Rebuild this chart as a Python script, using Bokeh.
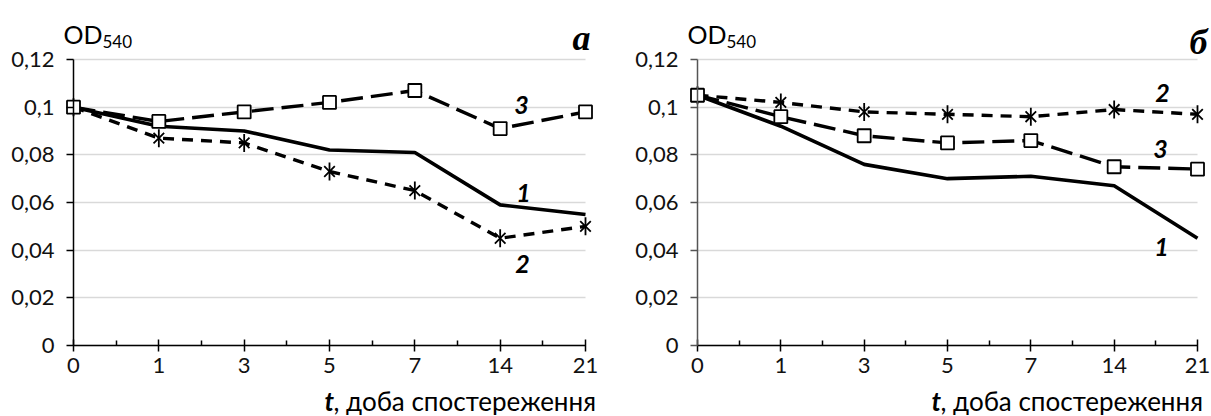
import math
from bokeh.plotting import figure
from bokeh.models import Range1d, FixedTicker, Label, CustomJSTickFormatter
from bokeh.layouts import row
from bokeh.embed import file_html
from bokeh.resources import INLINE

# ---- data ----
days = ["0", "1", "3", "5", "7", "14", "21"]
y_ticks = [0, 0.02, 0.04, 0.06, 0.08, 0.10, 0.12]
y_max = 0.12

a_curve1 = [0.100, 0.092, 0.090, 0.082, 0.081, 0.059, 0.055]
a_curve2 = [0.100, 0.087, 0.085, 0.073, 0.065, 0.045, 0.050]
a_curve3 = [0.100, 0.094, 0.098, 0.102, 0.107, 0.091, 0.098]

b_curve1 = [0.105, 0.092, 0.076, 0.070, 0.071, 0.067, 0.045]
b_curve2 = [0.105, 0.102, 0.098, 0.097, 0.096, 0.099, 0.097]
b_curve3 = [0.105, 0.096, 0.088, 0.085, 0.086, 0.075, 0.074]

curve_names = ["1", "2", "3"]
panel_letters = ["а", "б"]
y_title_main = "OD"
y_title_sub = "540"
x_title_var = "t"
x_title_rest = ", доба спостереження"

FONT = "Lato"
H = 415
TOP, BOTTOM = 59, 345  # px of the 0.12 and 0 levels


def make_panel(x0, width, fx0, fx1, curves, axis_color, lbl_pos, letter, letter_pos, title_x):
    n = len(days) - 1
    ux = (fx1 - fx0) / n            # px per category step
    uy = (BOTTOM - TOP) / y_max     # px per unit
    xr = Range1d((x0 - fx0) / ux, (x0 + width - fx0) / ux)
    yr = Range1d(-(H - BOTTOM) / uy, y_max + TOP / uy)
    p = figure(width=width, height=H, output_backend="svg", toolbar_location=None,
               x_range=xr, y_range=yr,
               min_border_left=0, min_border_right=0, min_border_top=0, min_border_bottom=0)
    p.outline_line_color = None
    p.xgrid.visible = False
    p.ygrid.ticker = FixedTicker(ticks=y_ticks)
    p.ygrid.grid_line_color = "#d9d9d9"
    p.ygrid.grid_line_width = 1.5
    p.ygrid.bounds = (0, y_max)
    p.ygrid.cross_bounds = (0, n)

    xa = p.xaxis[0]
    xa.fixed_location = 0
    xa.bounds = (0, n)
    xa.ticker = FixedTicker(ticks=list(range(n + 1)),
                            minor_ticks=[i + 0.5 for i in range(n)])
    xa.formatter = CustomJSTickFormatter(args=dict(labels=days),
                                         code="const i = Math.round(tick); return labels[i] ?? '';")
    xa.axis_line_color = "black"
    xa.axis_line_width = 1.5
    xa.major_tick_line_color = "black"
    xa.major_tick_line_width = 1.5
    xa.major_tick_in = 6
    xa.major_tick_out = 6
    xa.minor_tick_line_color = "black"
    xa.minor_tick_line_width = 1.5
    xa.minor_tick_in = 5
    xa.minor_tick_out = 0
    xa.major_label_text_font = FONT
    xa.major_label_text_font_size = "22px"
    xa.major_label_text_color = "#111111"
    xa.major_label_standoff = 6

    ya = p.yaxis[0]
    ya.fixed_location = 0
    ya.bounds = (0, y_max)
    ya.ticker = FixedTicker(ticks=y_ticks)
    ya.formatter = CustomJSTickFormatter(
        code="return tick.toFixed(2).replace(/0+$/, '').replace(/\\.$/, '').replace('.', ',');")
    ya.axis_line_color = axis_color
    ya.axis_line_width = 1.5
    ya.major_tick_line_color = axis_color
    ya.major_tick_line_width = 1.5
    ya.major_tick_in = 0
    ya.major_tick_out = 7
    ya.minor_tick_line_color = None
    ya.major_label_text_font = FONT
    ya.major_label_text_font_size = "22px"
    ya.major_label_text_color = "#111111"
    ya.major_label_standoff = 12

    xs = list(range(n + 1))
    c1, c2, c3 = curves
    p.line(xs, c1, line_color="black", line_width=3.6)
    p.line(xs, c2, line_color="black", line_width=3.4, line_dash="11 8")
    p.line(xs, c3, line_color="black", line_width=3.4, line_dash="22 8")
    p.scatter(xs, c2, marker="x", size=15, line_color="black", line_width=1.8)
    p.scatter(xs, c2, marker="dash", angle=math.pi / 2, size=18, line_color="black", line_width=1.8)
    p.scatter(xs, c3, marker="square", size=13, fill_color="white", line_color="black", line_width=1.8)

    def put(px, py, text, size, style="normal", font=FONT, align="center", baseline="middle"):
        x = (px - fx0) / ux
        y = (BOTTOM - py) / uy
        p.add_layout(Label(x=x, y=y, text=text, text_font=font, text_font_size=size,
                           text_font_style=style, text_align=align, text_baseline=baseline,
                           text_color="black"))

    for name, (px, py) in zip(curve_names, lbl_pos):
        put(px, py, name, "25px", "bold italic")
    put(letter_pos[0], letter_pos[1], letter, "36px", "bold italic", font="Liberation Serif")
    put(fx0 - 10, 33, y_title_main, "25px", align="left")
    put(fx0 + 29, 41, y_title_sub, "17px", align="left")
    put(title_x, 400, x_title_var, "26px", "bold italic", align="left")
    put(title_x + 9, 400, x_title_rest, "26px", align="left")
    return p


p1 = make_panel(0, 610, 73, 585, (a_curve1, a_curve2, a_curve3), "black",
                [(523, 192), (522, 263), (521, 104)], panel_letters[0], (581, 37), 324)
p2 = make_panel(610, 600, 697, 1197, (b_curve1, b_curve2, b_curve3), "#555555",
                [(1161, 246), (1162, 92), (1160, 148)], panel_letters[1], (1198, 41), 931)

layout = row(p1, p2)
open("out.html", "w").write(file_html(layout, INLINE))
